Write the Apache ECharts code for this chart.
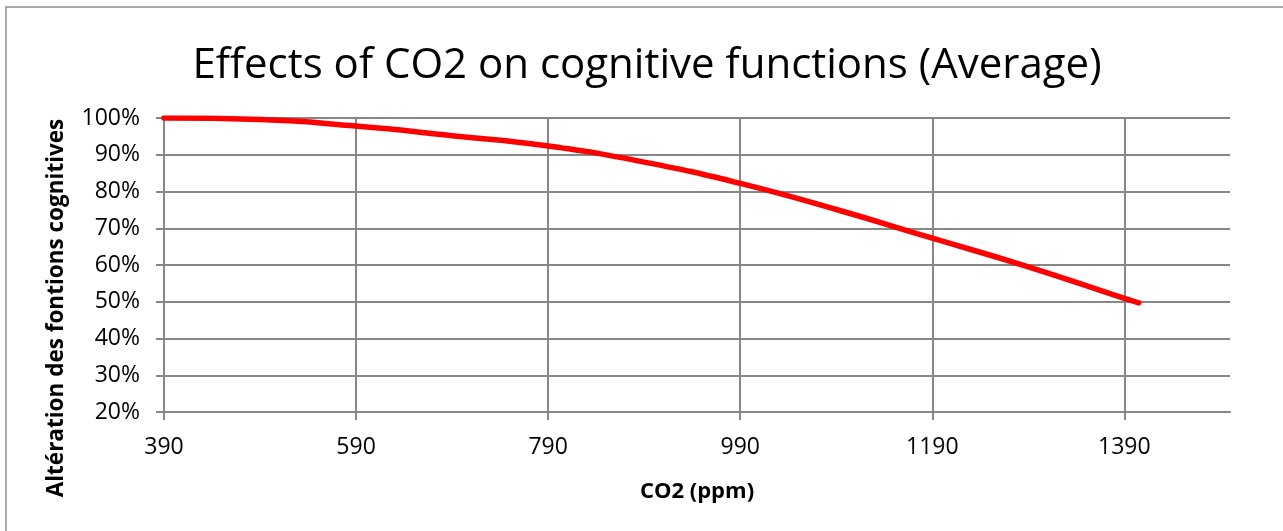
<!DOCTYPE html>
<html>
<head>
<meta charset="utf-8">
<script src="https://cdn.jsdelivr.net/npm/echarts@6/dist/echarts.min.js"></script>
<style>
html,body{margin:0;padding:0;background:#fff;}
#chart{width:1283px;height:531px;}
</style>
</head>
<body>
<div id="chart"></div>
<script>
// CO2 concentration (ppm)
const co2 = [390, 490, 590, 690, 790, 890, 990, 1090, 1190, 1290, 1390, 1405];
// Cognitive function level (%)
const cognitive = [100, 99.6, 97.8, 95.2, 92.4, 88.0, 82.2, 75.1, 67.3, 59.5, 50.9, 49.7];
// Axis ticks
const xTicks = [390, 590, 790, 990, 1190, 1390];
const yTicks = [20, 30, 40, 50, 60, 70, 80, 90, 100];

const titleText = 'Effects of CO2 on cognitive functions (Average)';
const xName = 'CO2 (ppm)';
const yName = 'Altération des fontions cognitives';

const FONT = '"Open Sans", "Noto Sans", sans-serif';
const GRID = '#878787';

const chart = echarts.init(document.getElementById('chart'), null, {renderer: 'canvas'});
chart.setOption({
  animation: false,
  backgroundColor: '#ffffff',
  grid: {left: 164, right: 53, top: 118, bottom: 119, containLabel: false},
  graphic: [
    {type: 'rect', silent: true, z: -1,
     shape: {x: 6, y: 7, width: 1320, height: 600},
     style: {fill: null, stroke: '#8c8c8c', lineWidth: 1.5}},
    {type: 'text', x: 647, y: 66,
     style: {text: titleText, align: 'center', verticalAlign: 'middle',
             font: '42px ' + FONT, fill: '#000'}},
    {type: 'text', x: 697, y: 492,
     style: {text: xName, align: 'center', verticalAlign: 'middle',
             font: 'bold 22px ' + FONT, fill: '#000'}},
    {type: 'text', x: 57, y: 308, rotation: Math.PI / 2,
     style: {text: yName, align: 'center', verticalAlign: 'middle',
             font: 'bold 22.5px ' + FONT, fill: '#000'}}
  ],
  xAxis: {
    type: 'value', min: 390, max: 1500, interval: 200,
    axisLine: {show: true, lineStyle: {color: GRID, width: 2}},
    axisTick: {show: true, length: 8, inside: false, customValues: xTicks,
               lineStyle: {color: GRID, width: 2}},
    axisLabel: {show: true, margin: 24, customValues: xTicks,
                color: '#000', fontFamily: FONT, fontSize: 23,
                formatter: function (v) { return String(v); }},
    splitLine: {show: true, lineStyle: {color: GRID, width: 2}}
  },
  yAxis: {
    type: 'value', min: 20, max: 100, interval: 10,
    axisLine: {show: true, lineStyle: {color: GRID, width: 2}},
    axisTick: {show: true, length: 8, inside: false, customValues: yTicks,
               lineStyle: {color: GRID, width: 2}},
    axisLabel: {show: true, margin: 24, customValues: yTicks,
                color: '#000', fontFamily: FONT, fontSize: 23,
                formatter: function (v) { return v + '%'; }},
    splitLine: {show: true, lineStyle: {color: GRID, width: 2}}
  },
  series: [{
    type: 'line',
    data: co2.map((c, i) => [c, cognitive[i]]),
    smooth: true,
    showSymbol: false,
    lineStyle: {color: '#ff0000', width: 5.5, cap: 'round', join: 'round'},
    z: 5
  }]
});
</script>
</body>
</html>
